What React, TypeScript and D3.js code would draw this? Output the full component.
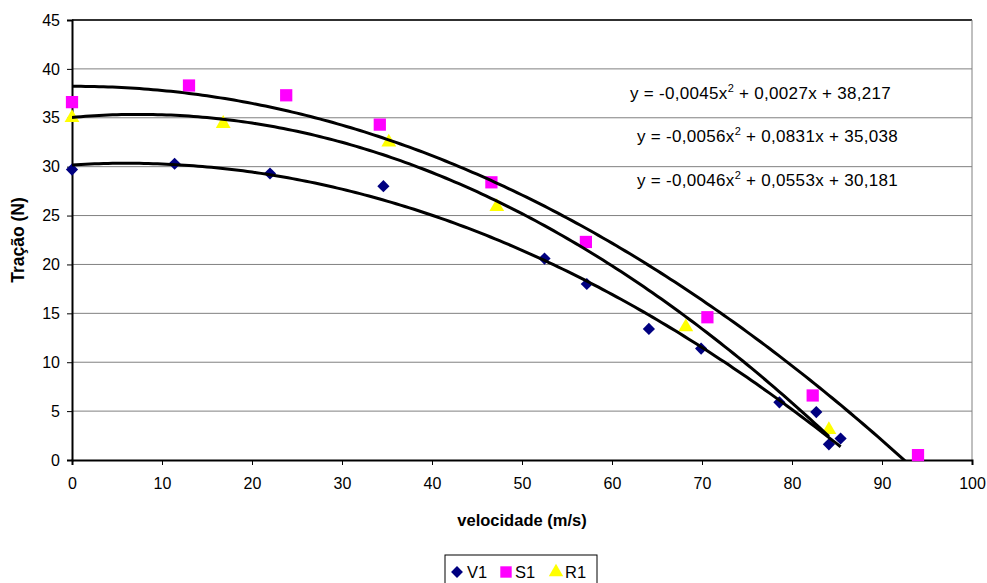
import React, { useEffect, useRef } from 'react';
import * as d3 from 'd3';

// velocidade (m/s) / tração (N)
const v1X = [0, 11.4, 22, 34.6, 52.5, 57.2, 64.1, 69.9, 78.6, 82.7, 84.1, 85.4];
const v1Y = [29.7, 30.3, 29.3, 28.0, 20.6, 18.0, 13.4, 11.4, 5.9, 4.9, 1.6, 2.2];
const s1X = [0, 13.0, 23.8, 34.2, 46.6, 57.1, 70.6, 82.3, 94.0];
const s1Y = [36.6, 38.3, 37.3, 34.3, 28.4, 22.3, 14.6, 6.6, 0.5];
const r1X = [0, 16.8, 35.2, 47.2, 68.2, 84.1];
const r1Y = [35.0, 34.4, 32.5, 25.9, 13.6, 3.1];

// trendline coefficients (a, b, c) from the labels
const trendS1 = [-0.0045, 0.0027, 38.217];
const trendR1 = [-0.0056, 0.0831, 35.038];
const trendV1 = [-0.0046, 0.0553, 30.181];
const trendLabels = [
  ['y = -0,0045x', ' + 0,0027x + 38,217'],
  ['y = -0,0056x', ' + 0,0831x + 35,038'],
  ['y = -0,0046x', ' + 0,0553x + 30,181'],
];

const xTicks = d3.range(0, 101, 10);
const yTicks = d3.range(0, 46, 5);

const W = 987;
const H = 583;
const FONT = 'Arial, "Liberation Sans", sans-serif';

const App = () => {
  const svgRef = useRef<SVGSVGElement | null>(null);

  useEffect(() => {
    const svg = d3.select(svgRef.current);
    svg.selectAll('*').remove();

    const x = d3.scaleLinear().domain([0, 100]).range([72, 972]);
    const y = d3.scaleLinear().domain([0, 45]).range([460, 20]);

    svg.append('defs').append('clipPath').attr('id', 'plotclip')
      .append('rect').attr('x', 72).attr('y', 20).attr('width', 900).attr('height', 440);

    // grid lines
    svg.append('g').selectAll('line').data(yTicks.filter(d => d > 0)).enter().append('line')
      .attr('x1', 72).attr('x2', 972).attr('y1', d => y(d)).attr('y2', d => y(d))
      .attr('stroke', '#808080').attr('stroke-width', 1);

    // plot border
    svg.append('line').attr('x1', 72).attr('x2', 972).attr('y1', 20).attr('y2', 20)
      .attr('stroke', '#000').attr('stroke-width', 1.5);
    svg.append('line').attr('x1', 972).attr('x2', 972).attr('y1', 20).attr('y2', 460)
      .attr('stroke', '#808080').attr('stroke-width', 1);

    // axes
    const xAxis = svg.append('g').attr('transform', 'translate(0,460)')
      .call(d3.axisBottom(x).tickValues(xTicks).tickSize(5).tickPadding(13).tickFormat(d3.format('d')));
    xAxis.select('.domain').attr('stroke', '#000').attr('stroke-width', 2);
    xAxis.selectAll('.tick line').attr('stroke', '#000');
    xAxis.selectAll('text').attr('font-family', FONT).attr('font-size', 16).attr('fill', '#000');

    const yAxis = svg.append('g').attr('transform', 'translate(72,0)')
      .call(d3.axisLeft(y).tickValues(yTicks).tickSize(5).tickPadding(7).tickFormat(d3.format('d')));
    yAxis.select('.domain').attr('stroke', '#000').attr('stroke-width', 2);
    yAxis.selectAll('.tick line').attr('stroke', '#000');
    yAxis.selectAll('text').attr('font-family', FONT).attr('font-size', 16).attr('fill', '#000');

    // axis titles
    svg.append('text').attr('x', 522).attr('y', 526).attr('text-anchor', 'middle')
      .attr('font-family', FONT).attr('font-size', 16.5).attr('font-weight', 'bold')
      .text('velocidade (m/s)');
    svg.append('text').attr('transform', 'translate(24,240) rotate(-90)').attr('text-anchor', 'middle')
      .attr('font-family', FONT).attr('font-size', 17.5).attr('font-weight', 'bold')
      .text('Tração (N)');

    const plot = svg.append('g');
    const diamond = d3.symbol().type(d3.symbolDiamond2).size(95);
    const square = d3.symbol().type(d3.symbolSquare).size(150);
    const triangle = d3.symbol().type(d3.symbolTriangle).size(95);

    // markers
    plot.selectAll('.v1').data(v1X.map((d, i) => [d, v1Y[i]])).enter().append('path')
      .attr('d', diamond).attr('transform', d => `translate(${x(d[0])},${y(d[1])})`).attr('fill', '#000080');
    plot.selectAll('.s1').data(s1X.map((d, i) => [d, s1Y[i]])).enter().append('path')
      .attr('d', square).attr('transform', d => `translate(${x(d[0])},${y(d[1])})`).attr('fill', '#ff00ff');
    plot.selectAll('.r1').data(r1X.map((d, i) => [d, r1Y[i]])).enter().append('path')
      .attr('d', triangle).attr('transform', d => `translate(${x(d[0])},${y(d[1])})`).attr('fill', '#ffff00');

    // trendlines
    const line = d3.line<number[]>().x(d => x(d[0])).y(d => y(d[1]));
    const trends = [
      { c: trendS1, max: d3.max(s1X) as number },
      { c: trendR1, max: d3.max(r1X) as number },
      { c: trendV1, max: d3.max(v1X) as number },
    ];
    trends.forEach(t => {
      const pts = d3.range(0, t.max, 0.5).concat([t.max])
        .map(v => [v, t.c[0] * v * v + t.c[1] * v + t.c[2]]);
      plot.append('path').datum(pts).attr('d', line).attr('fill', 'none')
        .attr('stroke', '#000').attr('stroke-width', 3).attr('clip-path', 'url(#plotclip)');
    });

    // trendline labels
    const labelPos = [[630, 99], [637, 142], [637, 186]];
    trendLabels.forEach((lbl, i) => {
      const t = svg.append('text').attr('x', labelPos[i][0]).attr('y', labelPos[i][1])
        .attr('font-family', FONT).attr('font-size', 17).attr('letter-spacing', 0.3).attr('fill', '#000');
      t.append('tspan').text(lbl[0]);
      t.append('tspan').attr('dy', -7).attr('font-size', 11).text('2');
      t.append('tspan').attr('dy', 7).text(lbl[1]);
    });

    // legend
    const lg = svg.append('g');
    lg.append('rect').attr('x', 445).attr('y', 555).attr('width', 152).attr('height', 34)
      .attr('fill', '#fff').attr('stroke', '#000').attr('stroke-width', 1);
    const items = [
      { sym: diamond, fill: '#000080', label: 'V1', sx: 457, tx: 467 },
      { sym: square, fill: '#ff00ff', label: 'S1', sx: 506, tx: 515 },
      { sym: triangle, fill: '#ffff00', label: 'R1', sx: 556, tx: 565 },
    ];
    items.forEach(it => {
      lg.append('path').attr('d', it.sym.size(it.label === 'S1' ? 130 : 90)())
        .attr('transform', `translate(${it.sx},572)`).attr('fill', it.fill);
      lg.append('text').attr('x', it.tx).attr('y', 578).attr('font-family', FONT)
        .attr('font-size', 16.5).text(it.label);
    });
  }, []);

  return (
    <svg ref={svgRef} width={W} height={H}
      style={{ position: 'absolute', left: 0, top: 0, background: '#fff' }} />
  );
};

export default App;
